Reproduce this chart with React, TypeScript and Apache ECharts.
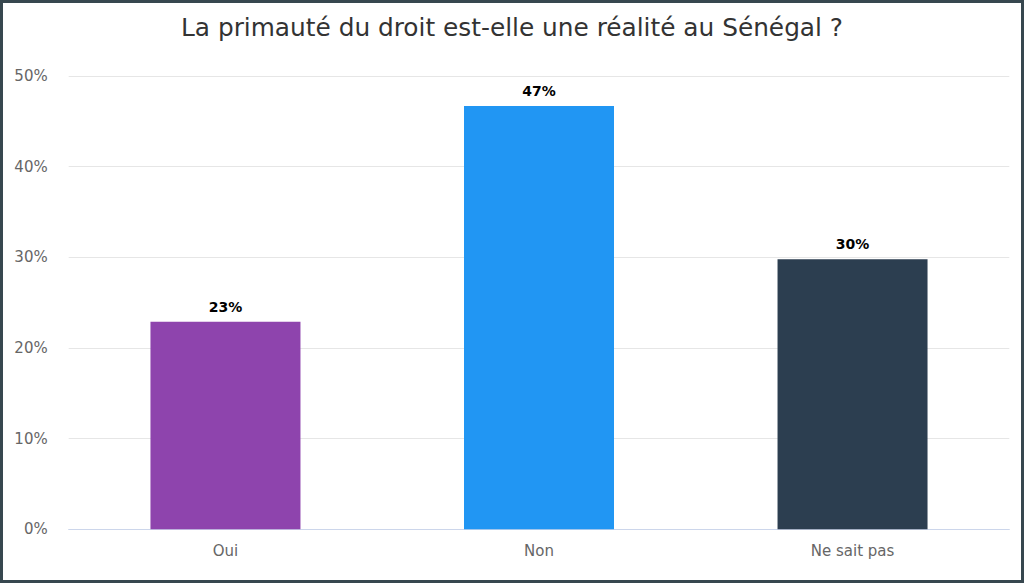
import React, { useEffect, useRef } from "react";
import * as echarts from "echarts";

const categories = ["Oui", "Non", "Ne sait pas"];
const values = [22.9, 46.7, 29.8];
const barColors = ["#8e44ad", "#2196f3", "#2c3e50"];
const yTicks = [0, 10, 20, 30, 40, 50];

const FONT = "'DejaVu Sans', sans-serif";

export default function App() {
  const ref = useRef<HTMLDivElement>(null);
  useEffect(() => {
    const chart = echarts.init(ref.current!, undefined, { renderer: "svg" });
    chart.setOption({
      animation: false,
      backgroundColor: "#ffffff",
      title: {
        text: "La primauté du droit est-elle une réalité au Sénégal ?",
        left: "center",
        top: 10,
        textStyle: {
          fontFamily: FONT,
          fontSize: 24.8,
          fontWeight: "normal",
          color: "#333333",
        },
      },
      grid: { left: 68.7, right: 14.7, top: 76, bottom: 583 - 529.3 },
      xAxis: {
        type: "category",
        data: categories,
        axisLine: { lineStyle: { color: "#ccd6eb", width: 1 } },
        axisTick: { show: false },
        axisLabel: {
          color: "#666666",
          fontFamily: FONT,
          fontSize: 15,
          margin: 14,
        },
      },
      yAxis: {
        type: "value",
        min: yTicks[0],
        max: yTicks[yTicks.length - 1],
        interval: 10,
        axisLine: { show: false },
        axisTick: { show: false },
        splitLine: { lineStyle: { color: "#e6e6e6", width: 1 } },
        axisLabel: {
          color: "#666666",
          fontFamily: FONT,
          fontSize: 15,
          margin: 21,
          formatter: (v: number) => `${v}%`,
        },
      },
      series: [
        {
          type: "bar",
          barWidth: 150,
          data: values.map((v, i) => ({
            value: v,
            itemStyle: { color: barColors[i] },
          })),
          label: {
            show: true,
            position: "top",
            distance: 8,
            color: "#000000",
            fontFamily: FONT,
            fontSize: 14,
            fontWeight: "bold",
            formatter: (p: any) => `${Math.round(p.value)}%`,
          },
        },
      ],
      graphic: [
        {
          type: "rect",
          z: 100,
          silent: true,
          shape: { x: 1.5, y: 1.5, width: 1021, height: 580 },
          style: { fill: "none", stroke: "#37474f", lineWidth: 3 },
        },
      ],
    });
    return () => chart.dispose();
  }, []);
  return (
    <div
      ref={ref}
      style={{ position: "fixed", left: 0, top: 0, width: 1024, height: 583 }}
    />
  );
}
